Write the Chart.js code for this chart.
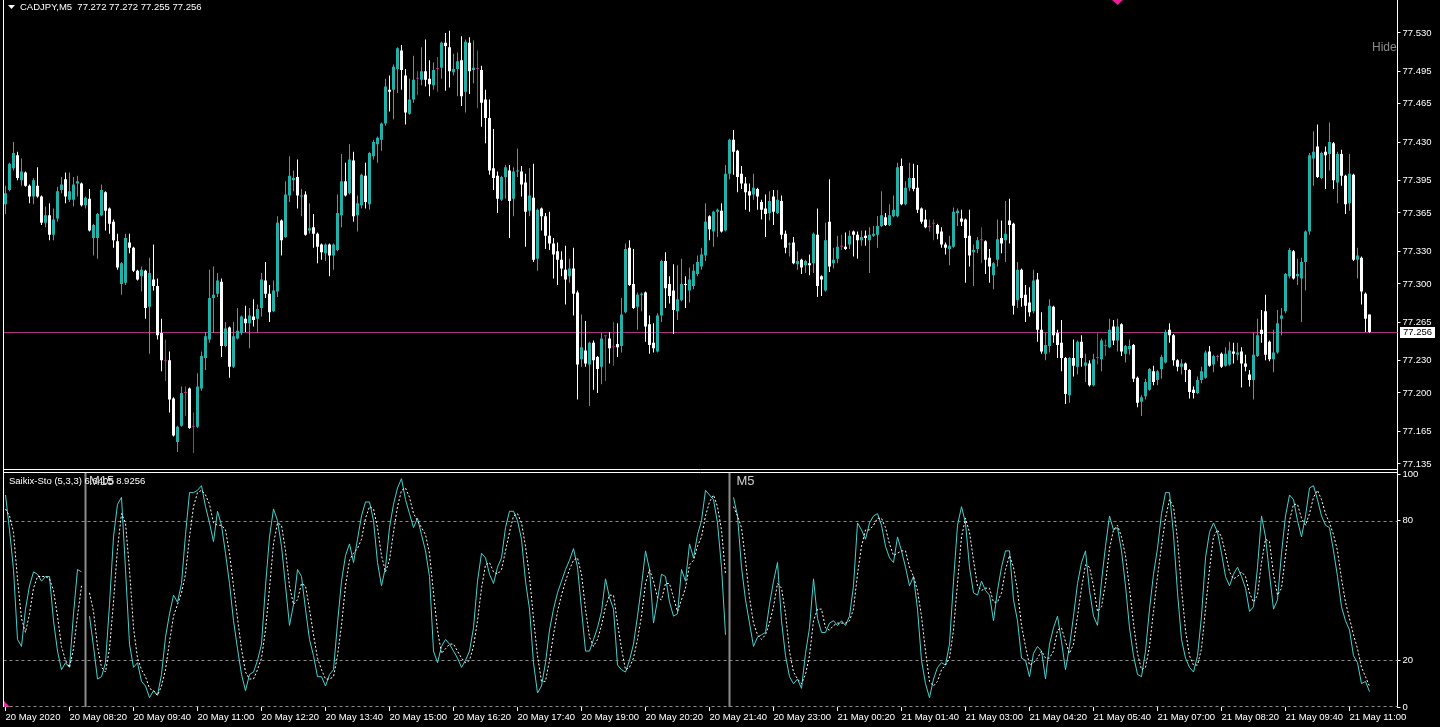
<!DOCTYPE html>
<html>
<head>
<meta charset="utf-8">
<title>CADJPY,M5</title>
<script src="https://cdn.jsdelivr.net/npm/chart.js@4.4.1/dist/chart.umd.min.js"></script>
<style>
  html, body { margin: 0; padding: 0; background: #000; overflow: hidden; }
  #priceChart { position: absolute; left: 0; top: 0; }
  #stochChart { position: absolute; left: 0; top: 462px; }
</style>
</head>
<body>
<canvas id="priceChart" width="1440" height="470"></canvas>
<canvas id="stochChart" width="1440" height="265"></canvas>
<script>
// CADJPY M5 candles, 20 May 07:00 .. 21 May 11:25
const SYMBOL = 'CADJPY,M5';

const OPEN = [
  77.373,77.386,77.406,77.418,77.395,77.402,77.390,77.380,77.390,77.380,
  77.356,77.363,77.345,77.360,77.386,77.396,77.377,77.377,77.392,77.392,
  77.372,77.378,77.342,77.342,77.363,77.384,77.369,77.357,77.339,77.300,
  77.301,77.338,77.333,77.312,77.307,77.312,77.279,77.304,77.298,77.255,
  77.229,77.230,77.195,77.155,77.170,77.200,77.204,77.169,77.169,77.204,
  77.232,77.249,77.287,77.291,77.302,77.243,77.260,77.224,77.250,77.255,
  77.268,77.264,77.270,77.268,77.278,77.303,77.291,77.275,77.293,77.358,
  77.343,77.381,77.395,77.398,77.380,77.382,77.349,77.352,77.346,77.336,
  77.328,77.336,77.326,77.331,77.363,77.394,77.383,77.413,77.363,77.372,
  77.399,77.373,77.417,77.428,77.432,77.447,77.478,77.478,77.497,77.514,
  77.491,77.456,77.469,77.488,77.487,77.495,77.488,77.482,77.497,77.498,
  77.521,77.517,77.494,77.497,77.505,77.476,77.521,77.496,77.497,77.496,
  77.469,77.452,77.406,77.399,77.377,77.398,77.404,77.378,77.403,77.403,
  77.393,77.367,77.379,77.323,77.369,77.362,77.344,77.337,77.330,77.322,
  77.313,77.307,77.314,77.292,77.231,77.239,77.226,77.246,77.233,77.224,
  77.252,77.250,77.242,77.245,77.243,77.274,77.333,77.300,77.279,77.290,
  77.292,77.263,77.246,77.238,77.271,77.321,77.300,77.294,77.275,77.285,
  77.300,77.294,77.298,77.309,77.316,77.326,77.362,77.348,77.366,77.367,
  77.349,77.401,77.432,77.422,77.401,77.392,77.385,77.382,77.387,77.375,
  77.369,77.365,77.380,77.365,77.376,77.346,77.336,77.338,77.318,77.322,
  77.317,77.319,77.319,77.345,77.307,77.294,77.357,77.319,77.323,77.334,
  77.334,77.336,77.348,77.345,77.340,77.344,77.340,77.344,77.345,77.353,
  77.361,77.354,77.362,77.362,77.408,77.373,77.388,77.397,77.388,77.369,
  77.359,77.352,77.355,77.354,77.348,77.336,77.332,77.334,77.365,77.360,
  77.359,77.344,77.329,77.332,77.340,77.339,77.324,77.308,77.322,77.342,
  77.340,77.358,77.355,77.285,77.313,77.290,77.283,77.275,77.304,77.258,
  77.236,77.243,77.279,77.255,77.246,77.232,77.198,77.232,77.224,77.247,
  77.225,77.227,77.207,77.232,77.231,77.243,77.242,77.261,77.248,77.263,
  77.236,77.240,77.244,77.214,77.192,77.197,77.203,77.220,77.212,77.222,
  77.228,77.258,77.253,77.230,77.224,77.227,77.221,77.203,77.200,77.212,
  77.214,77.238,77.226,77.233,77.236,77.225,77.226,77.238,77.235,77.238,
  77.227,77.217,77.212,77.234,77.258,77.275,77.247,77.231,77.237,77.268,
  77.275,77.307,77.330,77.307,77.305,77.320,77.348,77.415,77.426,77.397,
  77.421,77.419,77.429,77.393,77.419,77.399,77.374,77.400,77.322,77.324,
  77.291,77.272
];

const HIGH = [
  77.390,77.411,77.430,77.421,77.415,77.403,77.391,77.397,77.407,77.381,
  77.371,77.374,77.369,77.389,77.398,77.402,77.402,77.398,77.399,77.393,
  77.380,77.387,77.355,77.365,77.391,77.385,77.370,77.359,77.346,77.320,
  77.346,77.346,77.334,77.313,77.316,77.313,77.324,77.336,77.305,77.268,
  77.249,77.238,77.196,77.170,77.206,77.206,77.205,77.182,77.218,77.238,
  77.256,77.313,77.316,77.310,77.305,77.265,77.261,77.265,77.278,77.271,
  77.280,77.278,77.286,77.281,77.310,77.320,77.299,77.303,77.362,77.359,
  77.394,77.417,77.404,77.414,77.387,77.385,77.374,77.364,77.347,77.337,
  77.337,77.337,77.337,77.382,77.419,77.411,77.428,77.421,77.381,77.401,
  77.411,77.421,77.432,77.435,77.448,77.488,77.491,77.501,77.517,77.519,
  77.497,77.488,77.509,77.495,77.517,77.524,77.505,77.503,77.508,77.522,
  77.530,77.532,77.511,77.512,77.527,77.524,77.526,77.523,77.514,77.500,
  77.478,77.469,77.442,77.403,77.399,77.409,77.409,77.407,77.424,77.408,
  77.401,77.406,77.410,77.369,77.370,77.365,77.366,77.342,77.338,77.330,
  77.335,77.323,77.333,77.294,77.272,77.266,77.247,77.248,77.234,77.255,
  77.253,77.256,77.265,77.264,77.287,77.337,77.340,77.332,77.292,77.292,
  77.293,77.271,77.264,77.273,77.322,77.329,77.307,77.318,77.317,77.323,
  77.307,77.315,77.318,77.326,77.333,77.374,77.363,77.367,77.369,77.374,
  77.409,77.433,77.441,77.423,77.408,77.398,77.392,77.401,77.388,77.377,
  77.382,77.385,77.386,77.386,77.381,77.349,77.338,77.343,77.330,77.323,
  77.322,77.327,77.347,77.369,77.308,77.356,77.396,77.333,77.344,77.345,
  77.347,77.349,77.349,77.348,77.349,77.349,77.352,77.353,77.362,77.385,
  77.365,77.373,77.381,77.411,77.415,77.394,77.411,77.410,77.409,77.370,
  77.368,77.359,77.359,77.355,77.352,77.338,77.344,77.370,77.369,77.368,
  77.360,77.368,77.336,77.343,77.352,77.340,77.332,77.320,77.359,77.358,
  77.376,77.378,77.356,77.320,77.314,77.299,77.297,77.313,77.310,77.274,
  77.255,77.286,77.280,77.258,77.267,77.233,77.233,77.249,77.248,77.253,
  77.236,77.230,77.236,77.255,77.250,77.249,77.268,77.267,77.268,77.264,
  77.244,77.249,77.245,77.215,77.198,77.213,77.223,77.225,77.221,77.235,
  77.258,77.264,77.254,77.231,77.231,77.228,77.222,77.206,77.215,77.224,
  77.239,77.243,77.235,77.235,77.237,77.242,77.247,77.246,77.246,77.242,
  77.235,77.221,77.255,77.268,77.276,77.290,77.248,77.258,77.276,77.278,
  77.310,77.333,77.331,77.323,77.324,77.349,77.420,77.440,77.446,77.421,
  77.426,77.448,77.430,77.421,77.423,77.400,77.419,77.401,77.333,77.325,
  77.292,77.272
];

const LOW = [
  77.364,77.385,77.404,77.395,77.390,77.389,77.374,77.373,77.379,77.354,
  77.352,77.340,77.340,77.357,77.383,77.374,77.375,77.371,77.380,77.371,
  77.369,77.348,77.326,77.323,77.362,77.349,77.346,77.333,77.313,77.290,
  77.299,77.328,77.311,77.303,77.293,77.268,77.236,77.294,77.249,77.220,
  77.211,77.182,77.160,77.146,77.169,77.179,77.167,77.145,77.168,77.202,
  77.221,77.246,77.255,77.288,77.233,77.242,77.214,77.223,77.249,77.253,
  77.256,77.241,77.261,77.255,77.270,77.287,77.265,77.274,77.288,77.326,
  77.342,77.375,77.385,77.369,77.362,77.344,77.346,77.333,77.319,77.322,
  77.321,77.307,77.313,77.330,77.352,77.380,77.382,77.357,77.348,77.369,
  77.369,77.368,77.414,77.411,77.422,77.445,77.458,77.451,77.475,77.478,
  77.446,77.455,77.466,77.473,77.482,77.481,77.472,77.478,77.476,77.488,
  77.477,77.480,77.491,77.472,77.463,77.457,77.474,77.484,77.461,77.444,
  77.429,77.400,77.386,77.365,77.376,77.378,77.342,77.362,77.398,77.380,
  77.334,77.362,77.320,77.312,77.349,77.332,77.331,77.305,77.299,77.307,
  77.281,77.301,77.271,77.194,77.224,77.224,77.188,77.203,77.200,77.208,
  77.211,77.227,77.225,77.233,77.237,77.273,77.298,77.277,77.258,77.275,
  77.247,77.236,77.237,77.237,77.265,77.278,77.282,77.254,77.267,77.284,
  77.278,77.283,77.295,77.307,77.313,77.321,77.340,77.334,77.343,77.347,
  77.348,77.396,77.400,77.384,77.387,77.368,77.366,77.377,77.368,77.359,
  77.343,77.358,77.354,77.364,77.341,77.328,77.325,77.318,77.313,77.309,
  77.310,77.308,77.310,77.288,77.289,77.293,77.311,77.314,77.319,77.331,
  77.331,77.332,77.325,77.323,77.335,77.335,77.310,77.343,77.333,77.352,
  77.353,77.353,77.361,77.361,77.372,77.372,77.385,77.385,77.365,77.355,
  77.351,77.348,77.340,77.341,77.333,77.327,77.317,77.333,77.353,77.353,
  77.301,77.316,77.298,77.328,77.319,77.309,77.301,77.295,77.316,77.328,
  77.320,77.337,77.272,77.278,77.279,77.265,77.270,77.273,77.247,77.236,
  77.230,77.237,77.246,77.232,77.220,77.190,77.191,77.215,77.217,77.224,
  77.210,77.206,77.206,77.226,77.220,77.234,77.241,77.244,77.238,77.234,
  77.228,77.235,77.210,77.187,77.179,77.194,77.202,77.207,77.207,77.213,
  77.227,77.246,77.225,77.220,77.217,77.210,77.195,77.195,77.199,77.209,
  77.213,77.224,77.219,77.229,77.223,77.224,77.225,77.227,77.230,77.205,
  77.220,77.206,77.194,77.233,77.246,77.230,77.229,77.219,77.236,77.253,
  77.273,77.305,77.304,77.299,77.265,77.294,77.345,77.390,77.397,77.396,
  77.387,77.404,77.387,77.374,77.390,77.364,77.367,77.321,77.305,77.281,
  77.256,77.255
];

const CLOSE = [
  77.383,77.410,77.420,77.397,77.403,77.390,77.380,77.395,77.380,77.356,
  77.363,77.345,77.359,77.385,77.391,77.380,77.385,77.391,77.394,77.372,
  77.379,77.349,77.354,77.364,77.386,77.367,77.355,77.340,77.315,77.319,
  77.342,77.333,77.312,77.304,77.313,77.278,77.310,77.298,77.253,77.230,
  77.229,77.194,77.161,77.169,77.200,77.200,77.168,77.169,77.206,77.234,
  77.252,77.287,77.290,77.303,77.243,77.259,77.224,77.252,77.257,77.270,
  77.264,77.271,77.267,77.277,77.304,77.291,77.274,77.294,77.356,77.340,
  77.382,77.399,77.397,77.381,77.381,77.345,77.351,77.346,77.334,77.329,
  77.336,77.326,77.336,77.365,77.394,77.381,77.414,77.362,77.374,77.400,
  77.375,77.420,77.430,77.434,77.447,77.481,77.476,77.499,77.516,77.496,
  77.457,77.469,77.487,77.488,77.495,77.487,77.483,77.496,77.497,77.521,
  77.518,77.495,77.497,77.504,77.472,77.522,77.495,77.498,77.497,77.466,
  77.452,77.404,77.397,77.378,77.398,77.407,77.376,77.403,77.404,77.391,
  77.366,77.381,77.322,77.368,77.362,77.344,77.337,77.327,77.322,77.314,
  77.304,77.314,77.291,77.226,77.242,77.227,77.246,77.230,77.222,77.250,
  77.252,77.241,77.242,77.242,77.272,77.332,77.299,77.278,77.290,77.291,
  77.261,77.244,77.241,77.271,77.321,77.296,77.289,77.276,77.286,77.300,
  77.299,77.304,77.312,77.320,77.327,77.357,77.350,77.366,77.368,77.348,
  77.401,77.432,77.421,77.398,77.392,77.384,77.381,77.388,77.380,77.368,
  77.364,77.376,77.366,77.377,77.345,77.333,77.337,77.319,77.321,77.315,
  77.321,77.317,77.346,77.298,77.304,77.340,77.316,77.322,77.334,77.334,
  77.332,77.344,77.345,77.340,77.343,77.342,77.345,77.346,77.353,77.363,
  77.354,77.363,77.368,77.407,77.373,77.388,77.397,77.387,77.368,77.357,
  77.352,77.352,77.355,77.346,77.336,77.333,77.335,77.366,77.367,77.357,
  77.342,77.326,77.331,77.340,77.340,77.322,77.316,77.319,77.341,77.337,
  77.346,77.354,77.280,77.313,77.287,77.280,77.274,77.303,77.258,77.238,
  77.244,77.280,77.253,77.244,77.232,77.199,77.232,77.225,77.247,77.232,
  77.228,77.207,77.231,77.232,77.248,77.243,77.258,77.248,77.261,77.238,
  77.243,77.243,77.213,77.191,77.196,77.210,77.222,77.210,77.220,77.233,
  77.256,77.253,77.230,77.224,77.227,77.221,77.201,77.200,77.212,77.220,
  77.237,77.225,77.234,77.233,77.224,77.236,77.239,77.236,77.237,77.227,
  77.224,77.212,77.235,77.253,77.254,77.235,77.231,77.237,77.264,77.271,
  77.309,77.331,77.305,77.309,77.320,77.348,77.418,77.421,77.398,77.420,
  77.418,77.430,77.395,77.419,77.399,77.373,77.401,77.322,77.326,77.293,
  77.268,77.256
];

// Saikix-Sto (5,3,3): main and signal, null where the indicator has a gap
const STOCH_MAIN = [
  91,76,59,29,26,42,52,58,57,54, 56,56,37,24,16,19,17,40,59,58,
  null,39,26,12,13,19,44,73,87,90, 59,27,17,19,11,9,4,7,5,14,
  30,40,48,45,53,74,92,92,93,95, 86,79,71,84,78,66,53,37,25,14,
  7,14,15,20,27,52,73,85,80,69, 52,35,44,59,56,42,29,22,13,13,
  9,14,16,36,54,65,70,62,72,82, 88,88,80,62,52,60,77,87,94,98,
  89,83,77,81,74,67,56,24,19,26, 29,27,24,21,17,20,24,34,54,66,
  64,57,53,60,64,77,84,84,80,72, 54,42,19,6,9,19,33,42,49,54,
  59,63,68,60,42,24,24,29,34,41, 55,47,42,18,16,15,20,27,39,52,
  67,59,36,46,57,56,45,39,40,59, 54,70,64,74,80,93,91,89,79,60,
  31,null,90,82,60,46,36,26,30,31, 32,44,54,62,37,22,13,10,12,8,
  23,34,55,38,32,32,36,37,35,37, 35,39,52,79,76,72,79,82,83,78,
  69,64,62,73,67,60,52,56,42,20, 10,4,12,17,19,18,27,54,78,86,
  79,60,49,48,54,50,48,37,50,60, 67,67,46,37,21,20,13,23,26,24,
  12,27,34,39,28,16,26,39,53,62, 67,50,39,35,54,69,82,76,77,67,
  52,34,22,14,13,24,42,57,68,83, 92,92,74,49,29,21,17,15,22,39,
  64,75,79,75,66,56,52,57,60,56, 51,41,43,60,82,73,57,42,46,66,
  82,91,89,80,73,82,94,95,89,82, 78,77,67,56,43,37,33,22,19,10,
  11,6.6
];

const STOCH_SIGNAL = [
  85,82,75,55,38,32,40,51,56,56, 56,55,50,39,26,20,17,25,39,52,
  null,49,41,26,17,15,25,45,68,83, 79,59,34,21,16,13,8,7,5,9,
  16,28,39,44,49,57,73,86,92,93, 91,87,79,78,78,76,66,52,38,25,
  15,12,12,16,21,33,51,70,79,78, 67,52,44,46,53,52,42,31,21,16,
  12,12,13,22,35,52,63,66,68,72, 81,86,85,77,65,58,63,75,86,93,
  94,90,83,80,77,74,66,49,33,23, 25,27,27,24,21,19,20,26,37,51,
  61,62,58,57,59,67,75,82,83,79, 69,56,38,22,11,11,20,31,41,48,
  54,59,63,64,57,42,30,26,29,35, 43,48,48,36,25,16,17,21,29,39,
  53,59,54,47,46,53,53,47,41,46, 51,61,63,69,73,82,88,91,86,76,
  57,null,86,82,77,63,47,36,31,29, 31,36,43,53,51,40,24,15,12,10,
  14,22,37,42,42,34,33,35,36,36, 36,37,42,57,69,76,76,78,81,81,
  77,70,65,66,67,67,60,56,50,39, 24,11,9,11,16,18,21,33,53,73,
  81,75,63,52,50,51,51,45,45,49, 59,65,60,50,35,26,18,19,21,24,
  21,21,24,33,34,28,23,27,39,51, 61,60,52,41,43,53,68,76,78,73,
  65,51,36,23,16,17,26,41,56,69, 81,89,86,72,51,33,22,18,18,25,
  42,59,73,76,73,66,58,55,56,58, 56,49,45,48,62,72,71,57,48,51,
  65,80,87,87,81,78,83,90,93,89, 83,79,74,67,55,45,38,31,25,17,
  13,8.9
];
const STOCH_LAST_TEXT = '6.6405 8.9256';

const PRICE_TICKS = [77.530, 77.495, 77.465, 77.430, 77.395, 77.365, 77.330,
                     77.300, 77.265, 77.230, 77.200, 77.165, 77.135];
const STOCH_TICKS = [0, 20, 80, 100];
const STOCH_LEVELS = [20, 80];

const TIME_TICK_BARS = [0, 16, 32, 48, 64, 80, 96, 112, 128, 144, 160,
                        176, 192, 208, 224, 240, 256, 272, 288, 304, 320, 336];
const TIME_LABELS = ['20 May 2020', '20 May 08:20', '20 May 09:40', '20 May 11:00',
  '20 May 12:20', '20 May 13:40', '20 May 15:00', '20 May 16:20', '20 May 17:40',
  '20 May 19:00', '20 May 20:20', '20 May 21:40', '20 May 23:00', '21 May 00:20',
  '21 May 01:40', '21 May 03:00', '21 May 04:20', '21 May 05:40', '21 May 07:00',
  '21 May 08:20', '21 May 09:40', '21 May 11:00'];

// vertical line objects in the indicator window
const VLINES = [{ bar: 20, text: 'M15', dx: 3.5 }, { bar: 181, text: 'M5', dx: 7 }];

const FONT = 'Liberation Sans, Arial, sans-serif';
const BULL = '#20b2aa';
const BEAR = '#ffffff';
const DOJI = '#a9337f';
const BID_LINE = '#a9337f';

function candleColor(i) {
    if (CLOSE[i] > OPEN[i]) return BULL;
    if (CLOSE[i] < OPEN[i]) return BEAR;
    return DOJI;
}
const colors = OPEN.map((o, i) => candleColor(i));

const axisTicks = {
    color: '#ffffff',
    padding: 2,
    autoSkip: false,
    font: { family: FONT, size: 9.5 }
};

// ---------- price window ----------
const priceDecor = {
    id: 'priceDecor',
    beforeDatasetsDraw(chart) {
        const { ctx, chartArea: a, scales: { y } } = chart;
        const py = Math.round(y.getPixelForValue(CLOSE[CLOSE.length - 1])) + 0.5;
        ctx.save();
        ctx.strokeStyle = BID_LINE;
        ctx.lineWidth = 1;
        ctx.beginPath();
        ctx.moveTo(a.left, py);
        ctx.lineTo(a.right, py);
        ctx.stroke();
        ctx.restore();
    },
    afterDraw(chart) {
        const { ctx, chartArea: a, scales: { y } } = chart;
        const last = CLOSE.length - 1;
        ctx.save();
        // frame
        ctx.strokeStyle = '#ffffff';
        ctx.lineWidth = 1;
        ctx.beginPath();
        ctx.moveTo(3.5, 0);
        ctx.lineTo(3.5, 470);
        ctx.moveTo(3.5, 469.5);
        ctx.lineTo(a.right, 469.5);
        ctx.stroke();

        // bid label on the price scale
        const py = Math.round(y.getPixelForValue(CLOSE[last]));
        ctx.fillStyle = '#ffffff';
        ctx.fillRect(a.right + 2.5, py - 5, 35, 11);
        ctx.fillStyle = '#000000';
        ctx.font = '9.5px ' + FONT;
        ctx.textBaseline = 'middle';
        ctx.fillText(CLOSE[last].toFixed(3), a.right + 5.5, py + 0.5);

        // header
        ctx.fillStyle = '#ffffff';
        ctx.beginPath();
        ctx.moveTo(8, 5);
        ctx.lineTo(15, 5);
        ctx.lineTo(11.5, 9);
        ctx.closePath();
        ctx.fill();
        const head = SYMBOL + '  ' + [OPEN[last], HIGH[last], LOW[last], CLOSE[last]]
            .map(v => v.toFixed(3)).join(' ');
        ctx.fillText(head, 20, 7.5);

        // "Hide" button text
        ctx.fillStyle = '#8a8a8a';
        ctx.font = '12px ' + FONT;
        ctx.fillText('Hide', 1372, 48);

        // chart shift marker at the top
        ctx.fillStyle = '#f0199a';
        ctx.beginPath();
        ctx.moveTo(1117.5, -5);
        ctx.lineTo(1123, 0);
        ctx.lineTo(1117.5, 5);
        ctx.lineTo(1112, 0);
        ctx.closePath();
        ctx.fill();
        ctx.restore();
    }
};

new Chart(document.getElementById('priceChart'), {
    type: 'bar',
    data: {
        datasets: [
            {
                label: 'body',
                data: OPEN.map((o, i) => ({ x: i, y: [o, CLOSE[i]] })),
                backgroundColor: colors,
                barThickness: 3,
                minBarLength: 1,
                grouped: false,
                inflateAmount: 0,
                borderWidth: 0
            },
            {
                label: 'wick',
                data: LOW.map((l, i) => ({ x: i, y: [l, HIGH[i]] })),
                backgroundColor: colors,
                barThickness: 1,
                minBarLength: 1,
                grouped: false,
                inflateAmount: 0,
                borderWidth: 0
            }
        ]
    },
    options: {
        responsive: false,
        animation: false,
        events: [],
        layout: { padding: { left: 3.5, right: 0, top: 0, bottom: 0 } },
        plugins: { legend: { display: false }, tooltip: { enabled: false } },
        scales: {
            x: { type: 'linear', min: -0.5, max: 348, offset: false, display: false },
            y: {
                type: 'linear',
                position: 'right',
                min: 77.1294,
                max: 77.5602,
                afterBuildTicks: s => { s.ticks = PRICE_TICKS.map(v => ({ value: v })); },
                afterFit: s => { s.width = 42.5; s.paddingTop = 0; s.paddingBottom = 0; },
                grid: { drawOnChartArea: false, drawTicks: true, tickLength: 3, color: '#ffffff' },
                border: { display: true, color: '#ffffff' },
                ticks: Object.assign({}, axisTicks, { callback: v => v.toFixed(3) })
            }
        }
    },
    plugins: [priceDecor]
});

// ---------- stochastic window ----------
const stochDecor = {
    id: 'stochDecor',
    beforeDatasetsDraw(chart) {
        const { ctx, chartArea: a, scales: { x, y } } = chart;
        ctx.save();
        ctx.strokeStyle = '#8c8c8c';
        ctx.lineWidth = 1;
        ctx.setLineDash([3, 3]);
        STOCH_LEVELS.forEach(v => {
            const ly = Math.round(y.getPixelForValue(v)) + 0.5;
            ctx.beginPath();
            ctx.moveTo(a.left, ly);
            ctx.lineTo(a.right, ly);
            ctx.stroke();
        });
        ctx.beginPath();
        ctx.moveTo(a.left, a.bottom - 0.5);
        ctx.lineTo(a.right, a.bottom - 0.5);
        ctx.stroke();
        ctx.setLineDash([]);

        // vertical line objects
        ctx.strokeStyle = '#8c8c8c';
        ctx.lineWidth = 2;
        VLINES.forEach(l => {
            const lx = x.getPixelForValue(l.bar);
            ctx.beginPath();
            ctx.moveTo(lx, 10);
            ctx.lineTo(lx, a.bottom);
            ctx.stroke();
        });
        ctx.restore();
    },
    afterDraw(chart) {
        const { ctx, chartArea: a, scales: { x } } = chart;
        ctx.save();
        ctx.strokeStyle = '#ffffff';
        ctx.lineWidth = 1;
        ctx.beginPath();
        ctx.moveTo(3.5, 10.5);
        ctx.lineTo(a.right, 10.5);
        ctx.moveTo(3.5, 8);
        ctx.lineTo(3.5, a.bottom);
        ctx.moveTo(a.right, 0);
        ctx.lineTo(a.right, a.top);
        ctx.stroke();

        ctx.textBaseline = 'middle';
        ctx.fillStyle = '#ffffff';
        ctx.font = '9.5px ' + FONT;
        ctx.fillText('Saikix-Sto (5,3,3) ' + STOCH_LAST_TEXT, 9, 19.5);

        ctx.fillStyle = '#d0d0d0';
        ctx.font = '13px ' + FONT;
        ctx.textBaseline = 'top';
        VLINES.forEach(l => {
            ctx.fillText(l.text, x.getPixelForValue(l.bar) + l.dx, 13);
        });

        ctx.fillStyle = '#e0309a';
        ctx.beginPath();
        ctx.moveTo(4, 239);
        ctx.lineTo(10, 245);
        ctx.lineTo(4, 245);
        ctx.closePath();
        ctx.fill();
        ctx.restore();
    }
};

new Chart(document.getElementById('stochChart'), {
    type: 'line',
    data: {
        datasets: [
            {
                label: 'signal',
                data: STOCH_SIGNAL.map((v, i) => ({ x: i, y: v })),
                borderColor: '#ffffff',
                borderWidth: 1,
                borderDash: [2, 2],
                pointRadius: 0,
                tension: 0,
                spanGaps: false
            },
            {
                label: 'main',
                data: STOCH_MAIN.map((v, i) => ({ x: i, y: v })),
                borderColor: '#48d1cc',
                borderWidth: 1,
                pointRadius: 0,
                tension: 0,
                spanGaps: false
            }
        ]
    },
    options: {
        responsive: false,
        animation: false,
        events: [],
        layout: { padding: { left: 3.5, right: 0, top: 12, bottom: 0 } },
        plugins: { legend: { display: false }, tooltip: { enabled: false } },
        scales: {
            x: {
                type: 'linear',
                min: -0.5,
                max: 348,
                offset: false,
                afterBuildTicks: s => { s.ticks = TIME_TICK_BARS.map(v => ({ value: v })); },
                afterFit: s => { s.height = 20; s.paddingLeft = 0; s.paddingRight = 0; },
                grid: { drawOnChartArea: false, drawTicks: true, tickLength: 4, color: '#ffffff' },
                border: { display: false },
                ticks: Object.assign({}, axisTicks, {
                    align: 'start',
                    maxRotation: 0,
                    minRotation: 0,
                    padding: 1,
                    callback: (v, idx) => TIME_LABELS[idx]
                })
            },
            y: {
                type: 'linear',
                position: 'right',
                min: 0,
                max: 100,
                afterBuildTicks: s => { s.ticks = STOCH_TICKS.map(v => ({ value: v })); },
                afterFit: s => { s.width = 42.5; s.paddingTop = 0; s.paddingBottom = 0; },
                grid: { drawOnChartArea: false, drawTicks: true, tickLength: 3, color: '#ffffff' },
                border: { display: true, color: '#ffffff' },
                ticks: axisTicks
            }
        }
    },
    plugins: [stochDecor]
});
</script>
</body>
</html>
